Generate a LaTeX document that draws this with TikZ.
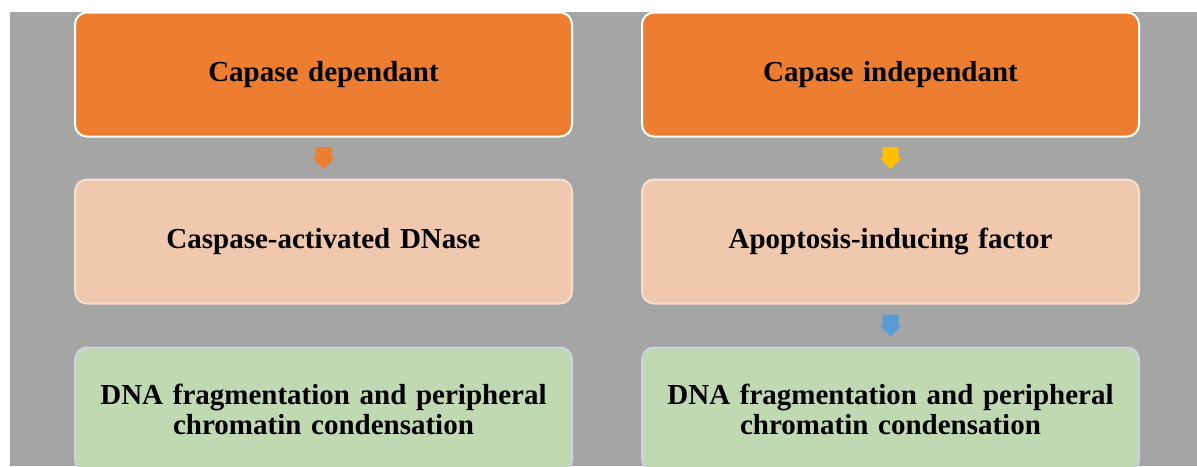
\documentclass[tikz,border=0pt]{standalone}
\usepackage{fontspec}
\setmainfont{Liberation Serif}
\usetikzlibrary{calc}
\definecolor{bggray}{HTML}{A5A5A5}
\definecolor{orangeC}{HTML}{ED7D31}
\definecolor{pinkC}{HTML}{F0C8AD}
\definecolor{pinkE}{HTML}{F7DFCF}
\definecolor{greenC}{HTML}{C1D9B3}
\definecolor{greenE}{HTML}{C9D3E4}
\definecolor{yellowC}{HTML}{FFC000}
\definecolor{blueC}{HTML}{5B9BD5}
\tikzset{
  box/.style={rounded corners=12pt, line width=2pt, minimum width=497pt, minimum height=124pt,
    align=center, text width=480pt, inner sep=0pt,
    font=\fontsize{29}{30}\selectfont\bfseries},
  topbox/.style={box, fill=orangeC, draw=white},
  midbox/.style={box, fill=pinkC, draw=pinkE},
  lowbox/.style={box, fill=greenC, draw=greenE},
}
\newcommand{\blockarrow}[2]{\fill[#2] (#1) ++(-8,-11) -- ++(16,0) -- ++(0,11) -- ++(3,0) -- ++(-11,11) -- ++(-11,-11) -- ++(3,0) -- cycle;}
\newcommand{\lowr}[1]{\raisebox{-2.5pt}{#1}}
\begin{document}
\begin{tikzpicture}[x=1pt,y=-1pt]
\useasboundingbox (0,0) rectangle (1197,466);
\fill[bggray] (10,12) rectangle (1197,466);
\begin{scope}
\clip (0,0) rectangle (1197,466);
\node[topbox] (a1) at (323.5,74.5) {\lowr{Capase dependant}};
\node[topbox] (b1) at (890.5,74.5) {\lowr{Capase independant}};
\node[midbox] (a2) at (323.5,241.5) {\lowr{Caspase-activated DNase}};
\node[midbox] (b2) at (890.5,241.5) {\lowr{Apoptosis-inducing factor}};
\node[lowbox] (a3) at (323.5,409.5) {DNA fragmentation and peripheral\\chromatin condensation};
\node[lowbox] (b3) at (890.5,409.5) {DNA fragmentation and peripheral\\chromatin condensation};
\end{scope}
\coordinate (m1) at ($(a1.south)!0.5!(a2.north)$);
\coordinate (m2) at ($(b1.south)!0.5!(b2.north)$);
\coordinate (m3) at ($(b2.south)!0.5!(b3.north)$);
\blockarrow{m1}{orangeC}
\blockarrow{m2}{yellowC}
\blockarrow{m3}{blueC}
\end{tikzpicture}
\end{document}
